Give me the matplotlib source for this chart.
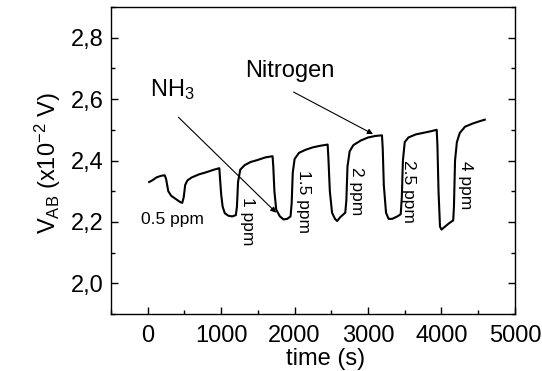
import matplotlib
matplotlib.use("Agg")
import matplotlib.pyplot as plt
from matplotlib.ticker import MultipleLocator, FuncFormatter

plt.rcParams['font.family'] = ['Liberation Sans', 'DejaVu Sans']
plt.rcParams['mathtext.fontset'] = 'custom'
plt.rcParams['mathtext.rm'] = 'Liberation Sans'
plt.rcParams['mathtext.it'] = 'Liberation Sans:italic'

# Sensor response: time (s) and output voltage V_AB (x10^-2 V)
time_s = [
    20, 60, 120, 180, 230,
    250, 280, 320, 380, 440, 470,
    490, 510, 540, 600, 700, 800, 900, 975,
    985, 1000, 1020, 1050, 1100, 1150, 1200,
    1215, 1230, 1260, 1320, 1400, 1500, 1600, 1700,
    1710, 1725, 1750, 1800, 1850, 1900, 1945,
    1960, 1975, 2000, 2060, 2150, 2250, 2350, 2450,
    2460, 2480, 2510, 2550, 2580, 2620, 2690,
    2705, 2720, 2750, 2800, 2900, 3000, 3100, 3190,
    3200, 3215, 3245, 3280, 3330, 3400, 3445,
    3460, 3475, 3500, 3550, 3650, 3750, 3850, 3935,
    3945, 3960, 3980, 4000, 4050, 4100, 4160,
    4170, 4185, 4210, 4250, 4320, 4420, 4520, 4590,
]
v_ab = [
    2.330, 2.335, 2.345, 2.350, 2.352,
    2.340, 2.300, 2.285, 2.275, 2.265, 2.262,
    2.280, 2.320, 2.335, 2.345, 2.355, 2.362, 2.370, 2.375,
    2.340, 2.290, 2.250, 2.228, 2.220, 2.218, 2.222,
    2.250, 2.330, 2.370, 2.385, 2.395, 2.402, 2.410, 2.414,
    2.380, 2.300, 2.240, 2.218, 2.208, 2.210, 2.218,
    2.260, 2.360, 2.405, 2.425, 2.435, 2.443, 2.448, 2.452,
    2.410, 2.300, 2.230, 2.210, 2.203, 2.215, 2.230,
    2.270, 2.380, 2.430, 2.450, 2.465, 2.475, 2.480, 2.482,
    2.440, 2.320, 2.230, 2.210, 2.210, 2.218, 2.225,
    2.280, 2.400, 2.460, 2.475, 2.485, 2.490, 2.495, 2.500,
    2.450, 2.300, 2.185, 2.175, 2.185, 2.195, 2.205,
    2.250, 2.400, 2.460, 2.490, 2.510, 2.520, 2.528, 2.533,
]

# Concentration labels: text, x, y, rotation
conc_labels = ["0.5 ppm", "1 ppm", "1.5 ppm", "2 ppm", "2.5 ppm", "4 ppm"]
conc_x = [341, 1364, 2123, 2841, 3545, 4331]
conc_y = [2.208, 2.203, 2.265, 2.30, 2.30, 2.32]
conc_rot = [0, 270, 270, 270, 270, 270]

fig = plt.figure(figsize=(5.42, 3.71), dpi=100)
ax = fig.add_axes([0.2048, 0.1536, 0.7452, 0.8275])

ax.plot(time_s, v_ab, color='black', linewidth=1.5)

ax.set_xlim(-500, 5000)
ax.set_ylim(1.9, 2.9)
ax.xaxis.set_major_locator(MultipleLocator(1000))
ax.xaxis.set_minor_locator(MultipleLocator(500))
ax.yaxis.set_major_locator(MultipleLocator(0.2))
ax.yaxis.set_minor_locator(MultipleLocator(0.1))
ax.yaxis.set_major_formatter(FuncFormatter(lambda v, p: f"{v:.1f}".replace('.', ',')))

ax.tick_params(which='both', direction='in', top=False, right=True, labelsize=17)
ax.tick_params(which='major', length=5, width=1, pad=5)
ax.tick_params(which='minor', length=3, width=1)
ax.tick_params(axis='x', which='major', pad=8)
for s in ax.spines.values():
    s.set_linewidth(1.0)

ax.set_xlabel('time (s)', fontsize=17)
ax.xaxis.set_label_coords(0.53, -0.11)
ax.set_ylabel(r'V$_{\mathrm{AB}}$ (x10$^{\mathrm{-2}}$ V)', fontsize=17)
ax.yaxis.set_label_coords(-0.12, 0.49)

for t, x, y, r in zip(conc_labels, conc_x, conc_y, conc_rot):
    ax.text(x, y, t, fontsize=12.5, rotation=r, ha='center', va='center')

ax.annotate('', xy=(3068, 2.486), xytext=(1986, 2.623),
            arrowprops=dict(arrowstyle='-|>', color='black', lw=0.8,
                            mutation_scale=8, shrinkA=0, shrinkB=0))
ax.text(1941, 2.69, 'Nitrogen', fontsize=17, ha='center', va='center')

ax.annotate('', xy=(1750, 2.230), xytext=(418, 2.541),
            arrowprops=dict(arrowstyle='-|>', color='black', lw=0.8,
                            mutation_scale=8, shrinkA=0, shrinkB=0))
ax.text(341, 2.63, r'NH$_3$', fontsize=17, ha='center', va='center')

fig.savefig('out.png', dpi=100)
